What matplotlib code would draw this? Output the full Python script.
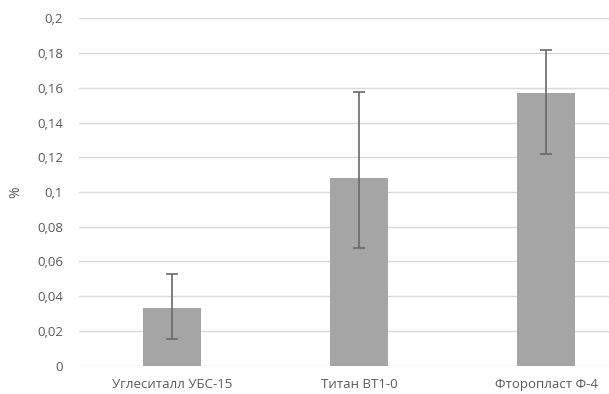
import matplotlib.pyplot as plt
import numpy as np

# Data
materials = ['Углеситалл УБС-15', 'Титан ВТ1-0', 'Фторопласт Ф-4']
values = [0.033, 0.108, 0.157]
err_low = [0.0155, 0.068, 0.1217]
err_high = [0.0526, 0.1577, 0.1816]
yticks = [0, 0.02, 0.04, 0.06, 0.08, 0.1, 0.12, 0.14, 0.16, 0.18, 0.2]
ytick_labels = ['0', '0,02', '0,04', '0,06', '0,08', '0,1', '0,12', '0,14', '0,16', '0,18', '0,2']

plt.rcParams['font.family'] = ['Open Sans', 'DejaVu Sans']
text_color = '#595959'

fig = plt.figure(figsize=(6.09, 3.94), dpi=100)
ax_left = 78.5 / 609
ax = fig.add_axes([ax_left, (394 - 365.7) / 394, 1 - ax_left, (365.7 - 18.3) / 394])

x = np.arange(len(materials))
vals = np.array(values)
yerr = [vals - np.array(err_low), np.array(err_high) - vals]

ax.bar(x, values, width=0.31, color='#a5a5a5', zorder=2)
ax.errorbar(x, values, yerr=yerr, fmt='none', ecolor='#6a6a6a', elinewidth=1.2,
            capsize=4, capthick=1.2, zorder=3)

ax.set_xlim(-0.5, (609 - 172) / 187)
ax.set_ylim(0, 0.2)
ax.set_yticks(yticks)
ax.set_yticklabels(ytick_labels)
ax.set_xticks(x)
ax.set_xticklabels(materials)

ax.yaxis.grid(True, color='#d9d9d9', linewidth=1, zorder=0)
ax.set_axisbelow(True)
for s in ax.spines.values():
    s.set_visible(False)
ax.tick_params(axis='both', length=0, colors=text_color, labelsize=9.5)
ax.tick_params(axis='y', pad=11)
ax.tick_params(axis='x', pad=9)

ax.set_ylabel('%', color=text_color, fontsize=10)
ax.yaxis.set_label_coords((23 - 78.5) / (609 - 78.5), 0.5)

plt.savefig('out.png', dpi=100)
